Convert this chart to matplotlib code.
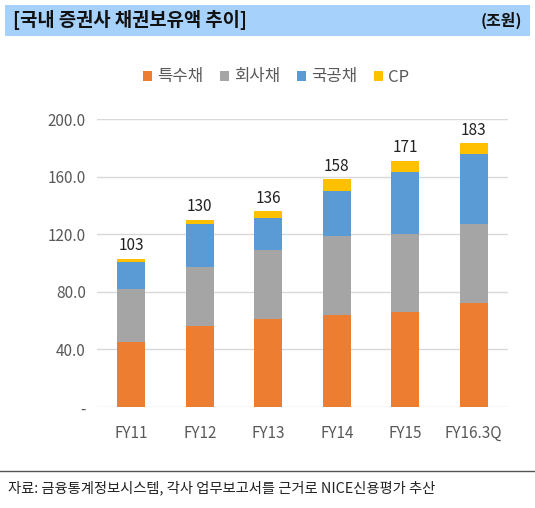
import matplotlib.pyplot as plt
from matplotlib.patches import Rectangle
import numpy as np

plt.rcParams['font.family'] = ['Noto Sans CJK KR', 'DejaVu Sans']

years = ['FY11', 'FY12', 'FY13', 'FY14', 'FY15', 'FY16.3Q']
special = [45, 56, 61, 64, 66, 72]      # 특수채
corp = [37, 41, 48, 55, 54, 55]         # 회사채
gov = [19, 30, 22, 31, 43, 49]          # 국공채
cp = [2, 3, 5, 8, 8, 7]                 # CP
totals = [103, 130, 136, 158, 171, 183]
yticks = [0, 40, 80, 120, 160, 200]
ylabels = ['-', '40.0', '80.0', '120.0', '160.0', '200.0']

names = ['특수채', '회사채', '국공채', 'CP']
colors = ['#ED7D31', '#A5A5A5', '#5B9BD5', '#FFC000']

fig = plt.figure(figsize=(5.35, 5.08), dpi=100)

# title banner
fig.patches.append(Rectangle((5/535, 1-36/508), 525/535, 31/508, transform=fig.transFigure,
                             facecolor='#A6D1FA', edgecolor='none'))
fig.text(13/535, 1-20/508, '[국내 증권사 채권보유액 추이]', fontsize=13.5, fontweight='bold',
         va='center', ha='left', color='#111111')
fig.text(522/535, 1-20/508, '(조원)', fontsize=11.5, fontweight='bold',
         va='center', ha='right', color='#111111')

ax = fig.add_axes([97/535, 1-407/508, 411/535, 288/508])
x = np.arange(len(years))
bottom = np.zeros(len(years))
for vals, name, c in zip([special, corp, gov, cp], names, colors):
    ax.bar(x, vals, 0.41, bottom=bottom, color=c, label=name, zorder=3)
    bottom += np.array(vals)

for xi, t in zip(x, totals):
    ax.text(xi, t + 3, str(t), ha='center', va='bottom', fontsize=11, color='#222222')

ax.set_ylim(0, 200)
ax.set_xlim(-0.5, len(years) - 0.5)
ax.set_yticks(yticks)
ax.set_yticklabels(ylabels)
ax.set_xticks(x)
ax.set_xticklabels(years)
ax.tick_params(length=0, labelsize=11, labelcolor='#595959')
ax.tick_params(axis='x', pad=13)
ax.tick_params(axis='y', pad=8)
ax.grid(axis='y', color='#D9D9D9', linewidth=1, zorder=0)
for s in ax.spines.values():
    s.set_visible(False)

fig.legend(loc='center', bbox_to_anchor=(276/535, 1-77/508), ncol=4, frameon=False,
           fontsize=12, handlelength=0.55, handleheight=0.55, handletextpad=0.3,
           columnspacing=1.0, labelcolor='#595959')

fig.add_artist(plt.Line2D([0, 1], [1-471/508, 1-471/508], transform=fig.transFigure,
                          color='#555555', linewidth=1))
fig.text(8/535, 1-488/508, '자료: 금융통계정보시스템, 각사 업무보고서를 근거로 NICE신용평가 추산',
         fontsize=10.3, va='center', ha='left', color='#222222')

fig.savefig('out.png', dpi=100)
